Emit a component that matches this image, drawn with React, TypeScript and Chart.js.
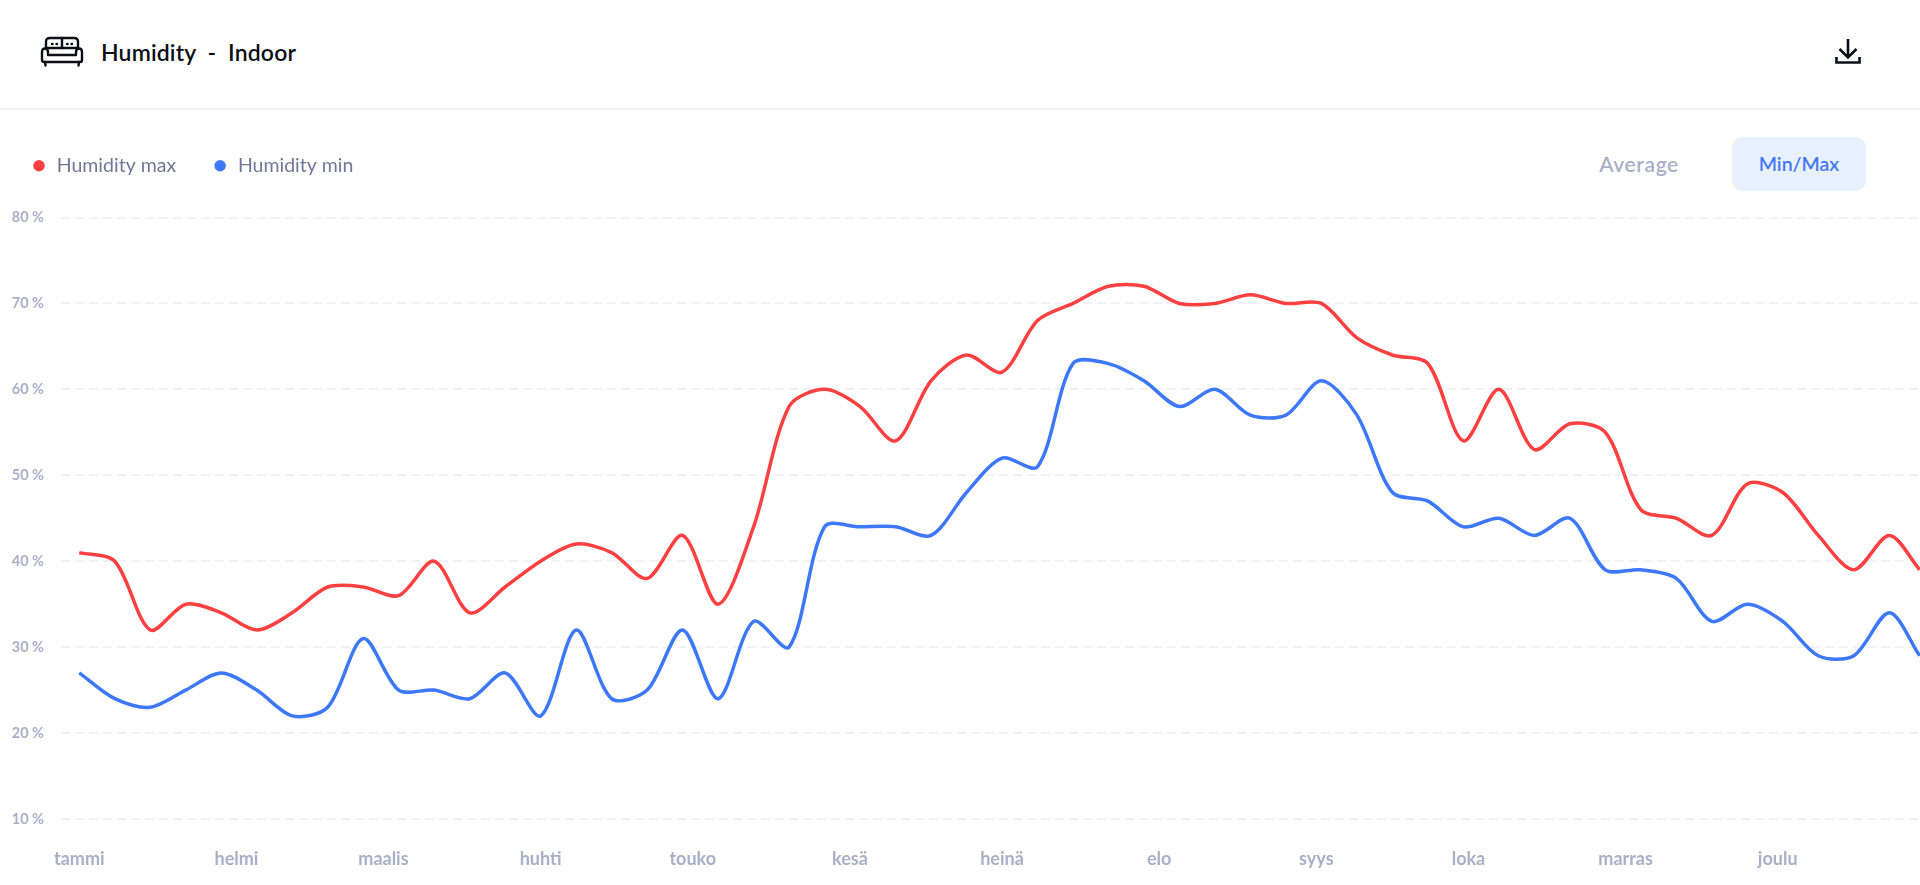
import React, { useEffect, useRef } from "react";
import { Chart, registerables } from "chart.js";

Chart.register(...registerables);

const monthNames = ["tammi", "helmi", "maalis", "huhti", "touko", "kesä", "heinä", "elo", "syys", "loka", "marras", "joulu"];
const monthStartDays = [0, 31, 60, 91, 121, 152, 182, 213, 244, 274, 305, 335];
const weekDays = [0, 7, 14, 21, 28, 35, 42, 49, 56, 63, 70, 77, 84, 91, 98, 105, 112, 119, 126, 133, 140, 147, 154, 161, 168, 175, 182, 189, 196, 203, 210, 217, 224, 231, 238, 245, 252, 259, 266, 273, 280, 287, 294, 301, 308, 315, 322, 329, 336, 343, 350, 357, 363];
const humidityMax = [41, 40, 32, 35, 34, 32, 34, 37, 37, 36, 40, 34, 37, 40, 42, 41, 38, 43, 35, 44, 58, 60, 58, 54, 61, 64, 62, 68, 70, 72, 72, 70, 70, 71, 70, 70, 66, 64, 63, 54, 60, 53, 56, 55, 46, 45, 43, 49, 48, 43, 39, 43, 39];
const humidityMin = [27, 24, 23, 25, 27, 25, 22, 23, 31, 25, 25, 24, 27, 22, 32, 24, 25, 32, 24, 33, 30, 44, 44, 44, 43, 48, 52, 51, 63, 63, 61, 58, 60, 57, 57, 61, 57, 48, 47, 44, 45, 43, 45, 39, 39, 38, 33, 35, 33, 29, 29, 34, 29];
const seriesNames = ["Humidity max", "Humidity min"];
const yTicks = [10, 20, 30, 40, 50, 60, 70, 80];

const FONT = "Lato, 'Open Sans', sans-serif";

const legendGap = {
  id: "legendGap",
  beforeInit(chart: any) {
    const fit = chart.legend.fit;
    chart.legend.fit = function () {
      fit.call(this);
      this.height += 32;
    };
  },
};

export default function App() {
  const ref = useRef<HTMLCanvasElement>(null);
  useEffect(() => {
    const chart = new Chart(ref.current!, {
      type: "line",
      plugins: [legendGap],
      data: {
        datasets: [
          { label: seriesNames[0], data: weekDays.map((x, i) => ({ x, y: humidityMax[i] })), borderColor: "#ff4040", backgroundColor: "#ff4040", borderWidth: 3.5, pointRadius: 0, tension: 0.3, clip: false },
          { label: seriesNames[1], data: weekDays.map((x, i) => ({ x, y: humidityMin[i] })), borderColor: "#3d78fb", backgroundColor: "#3d78fb", borderWidth: 3.5, pointRadius: 0, tension: 0.3, clip: false },
        ],
      },
      options: {
        animation: false,
        responsive: false,
        layout: { padding: 0 },
        plugins: {
          tooltip: { enabled: false },
          legend: {
            position: "top",
            align: "start",
            labels: {
              usePointStyle: true,
              pointStyle: "circle",
              boxWidth: 16,
              boxHeight: 5.66,
              padding: 36,
              color: "#6f7897",
              font: { family: FONT, size: 19.5 },
            },
          },
        },
        scales: {
          x: {
            type: "linear",
            min: -3.6,
            max: 367.6,
            border: { display: false },
            grid: { display: false },
            afterBuildTicks: (axis: any) => { axis.ticks = monthStartDays.map((value) => ({ value })); },
            afterFit: (axis: any) => { axis.height = 885 - 819; },
            ticks: {
              autoSkip: false,
              maxRotation: 0,
              padding: 21,
              color: "#a9afc7",
              font: { family: FONT, size: 18, weight: "bold" },
              callback: (v: any) => monthNames[monthStartDays.indexOf(Number(v))] ?? "",
            },
          },
          y: {
            min: 10,
            max: 80,
            border: { display: false, dash: [9, 5] },
            afterBuildTicks: (axis: any) => { axis.ticks = yTicks.map((value) => ({ value })); },
            afterFit: (axis: any) => { axis.width = 66; },
            grid: { color: "#f1f2f8", lineWidth: 2, drawTicks: false },
            ticks: {
              padding: 17,
              color: "#a9afc7",
              font: { family: FONT, size: 14.5, weight: "bold" },
              callback: (v: any) => `${v} %`,
            },
          },
        },
      },
    });
    return () => chart.destroy();
  }, []);

  return (
    <div style={{ position: "fixed", left: 0, top: 0, width: 1920, height: 885, overflow: "hidden", background: "#fff", fontFamily: FONT }}>
      <div style={{ position: "absolute", left: 0, top: 108, width: 1920, height: 2, background: "#f1f2f6" }} />
      <svg style={{ position: "absolute", left: 40, top: 36 }} width="44" height="32" viewBox="0 0 44 32" fill="none" stroke="#0c0f16" strokeWidth="2.4" strokeLinejoin="round" strokeLinecap="round">
        <path d="M6 13 V5.5 Q6 2 10 2 H34 Q38 2 38 5.5 V13" />
        <path d="M22 2 V12" />
        <path d="M6 12 H38" />
        <path d="M2 16 Q2 12.5 5 12.5 Q8 12.5 8 16 V19 H36 V16 Q36 12.5 39 12.5 Q42 12.5 42 16 V24 Q42 26 40 26 H4 Q2 26 2 24 Z" />
        <path d="M5 26 L5.5 29.5 M39 26 L38.5 29.5" />
        <path d="M12 8 h.5 M16.5 8 h.5 M27 8 h.5 M31.5 8 h.5" />
      </svg>
      <div style={{ position: "absolute", left: 101, top: 38, fontSize: 23, lineHeight: "28px", fontWeight: 600, letterSpacing: 0.15, color: "#0c0f16", whiteSpace: "pre" }}>Humidity  -  Indoor</div>
      <svg style={{ position: "absolute", left: 1835, top: 37 }} width="26" height="28" viewBox="0 0 26 28" fill="none" stroke="#0c0f16" strokeWidth="2.6">
        <path d="M13 2 V20 M4.5 12 L13 20.5 L21.5 12" />
        <path d="M1.5 20 V25.5 H24.5 V20" />
      </svg>
      <div style={{ position: "absolute", left: 1539, top: 137, width: 200, height: 54, lineHeight: "54px", textAlign: "center", fontSize: 21, letterSpacing: 0.6, fontWeight: 600, color: "#a9afc7" }}>Average</div>
      <div style={{ position: "absolute", left: 1732, top: 137, width: 134, height: 54, lineHeight: "54px", textAlign: "center", fontSize: 19.5, fontWeight: 600, color: "#4479f5", background: "#e9f0fd", borderRadius: 11 }}>Min/Max</div>
      <canvas ref={ref} width={1948} height={765} style={{ position: "absolute", left: -5, top: 120, width: 1948, height: 765 }} />
    </div>
  );
}
